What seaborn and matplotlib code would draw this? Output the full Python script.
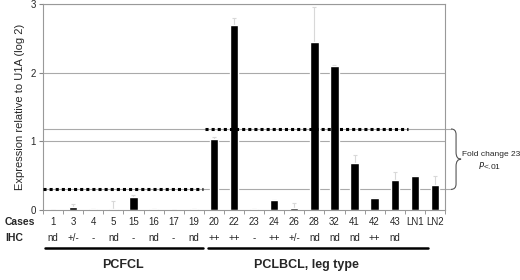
import matplotlib
matplotlib.use("Agg")
import matplotlib.pyplot as plt
import seaborn as sns
import pandas as pd
import numpy as np
from matplotlib.path import Path
from matplotlib.patches import PathPatch
import matplotlib.transforms as mtransforms

cases = ["1", "3", "4", "5", "15", "16", "17", "19", "20", "22", "23", "24",
         "26", "28", "32", "41", "42", "43", "LN1", "LN2"]
ihc = ["nd", "+/-", "-", "nd", "-", "nd", "-", "nd", "++", "++", "-", "++",
       "+/-", "nd", "nd", "nd", "++", "nd", "", ""]
expression = [0.004, 0.04, 0.015, 0.008, 0.19, 0.02, 0.003, 0.015, 1.04, 2.70,
              0.01, 0.14, 0.035, 2.44, 2.09, 0.69, 0.18, 0.43, 0.50, 0.36]
err_upper = [0.0, 0.05, 0.0, 0.12, 0.03, 0.0, 0.0, 0.0, 0.03, 0.10,
             0.0, 0.0, 0.06, 0.52, 0.02, 0.11, 0.0, 0.12, 0.0, 0.13]
pcfcl_level = 0.30
pclbcl_level = 1.18
group_names = ["PCFCL", "PCLBCL, leg type"]

sns.set_style("white")
plt.rcParams['font.family'] = ['Liberation Sans', 'DejaVu Sans']

df = pd.DataFrame({"case": cases, "expr": expression, "err": err_upper})

fig = plt.figure(figsize=(5.2, 2.8), dpi=100)
ax = fig.add_axes([43/520, 1-210/280, (445-43)/520, (210-4)/280])

xs = np.arange(len(cases))
ax.errorbar(xs, df["expr"], yerr=[np.zeros(len(cases)), df["err"]], fmt="none",
            ecolor="#d8d8d8", elinewidth=0.8, capsize=1.5, capthick=0.8, zorder=1)
sns.barplot(data=df, x="case", y="expr", color="black", width=0.42,
            saturation=1, errorbar=None, ax=ax, zorder=2)

ax.set_xlim(-0.5, len(cases) - 0.5)
ax.set_ylim(0, 3)
ax.set_yticks([0, 1, 2, 3])
ax.tick_params(axis="y", labelsize=7, length=3, color="#888888", pad=2, left=True)
ax.set_ylabel("Expression relative to U1A (log 2)", fontsize=8, labelpad=4)
ax.set_xlabel("")
ax.set_xticks(xs)
ax.set_xticklabels(cases, fontsize=7)
ax.tick_params(axis="x", length=0, pad=5)
ax.set_xticks(np.arange(-0.5, len(cases), 1), minor=True)
ax.tick_params(axis="x", which="minor", length=3, color="#888888", bottom=True)

for y in [1, 2, 3]:
    ax.axhline(y, color="#aaaaaa", lw=0.8, zorder=0)
for s in ax.spines.values():
    s.set_color("#999999")
    s.set_linewidth(0.8)

# dotted group means
ax.plot([-0.5, 7.45], [pcfcl_level, pcfcl_level], ls=(0, (1, 1)), color="black", lw=2.2, zorder=3)
ax.plot([7.55, 17.65], [pclbcl_level, pclbcl_level], ls=(0, (1, 1)), color="black", lw=2.2, zorder=3)

# gray reference lines + brace
xr = 19.5
xm = xr + 0.3
xc = xr + 0.55
xb = 20.3
ax.plot([-0.5, xm], [pclbcl_level, pclbcl_level], color="#aaaaaa", lw=0.8, zorder=0, clip_on=False)
ax.plot([-0.5, xm], [pcfcl_level, pcfcl_level], color="#aaaaaa", lw=0.8, zorder=0, clip_on=False)
mid = (pcfcl_level + pclbcl_level) / 2
verts = [(xm, pclbcl_level), (xc, pclbcl_level), (xc, pclbcl_level - 0.08),
         (xc, mid + 0.1), (xc, mid), (xb, mid),
         (xc, mid), (xc, mid - 0.1), (xc, pcfcl_level + 0.08),
         (xc, pcfcl_level), (xm, pcfcl_level)]
codes = [Path.MOVETO, Path.CURVE3, Path.CURVE3,
         Path.LINETO, Path.CURVE3, Path.CURVE3,
         Path.CURVE3, Path.CURVE3, Path.LINETO,
         Path.CURVE3, Path.CURVE3]
ax.add_patch(PathPatch(Path(verts, codes), fill=False, edgecolor="#555555", lw=0.8, clip_on=False))
ax.text(20.35, mid + 0.07, "Fold change 23", fontsize=6, ha="left", va="center", clip_on=False)
ax.text(21.7, mid - 0.09, "$\\it{P}$<.01", fontsize=6, ha="center", va="center", clip_on=False)

trans = mtransforms.blended_transform_factory(ax.transData, ax.transAxes)
ax.text(-0.5 - 1.9, -0.058, "Cases", transform=trans, fontsize=7.5, fontweight="bold",
        ha="left", va="center")
ax.text(-0.5 - 1.9, -0.136, "IHC", transform=trans, fontsize=7.5, fontweight="bold",
        ha="left", va="center")
for x, lab in zip(xs, ihc):
    if lab:
        ax.text(x, -0.136, lab, transform=trans, fontsize=7, ha="center", va="center")

ax.plot([-0.4, 7.45], [-0.184, -0.184], transform=trans, color="black", lw=1.8, clip_on=False)
ax.plot([7.7, 18.65], [-0.184, -0.184], transform=trans, color="black", lw=1.8, clip_on=False)
ax.text(3.5, -0.267, group_names[0], transform=trans, fontsize=9, fontweight="bold",
        ha="center", va="center")
ax.text(12.6, -0.267, group_names[1], transform=trans, fontsize=9, fontweight="bold",
        ha="center", va="center")

fig.savefig("out.png", dpi=100)
